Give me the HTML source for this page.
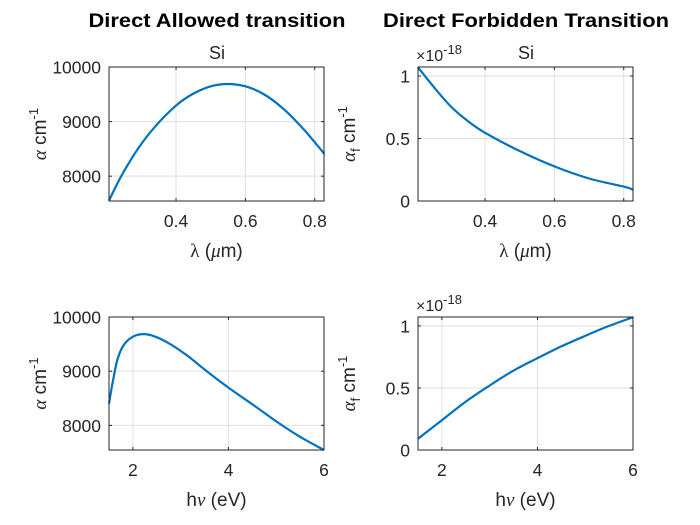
<!DOCTYPE html>
<html><head><meta charset="utf-8"><style>
body{margin:0;background:#fff}
svg{display:block;font-family:"Liberation Sans",Arial,sans-serif}
</style></head><body>
<svg id="fig" width="700" height="525" viewBox="0 0 700 525"></svg>
<script>
const lamA=[0.2067,0.243,0.290,0.338,0.4,0.448,0.5,0.548,0.6,0.652,0.71,0.767,0.822,0.8267];
const alphaLam=[7555,8012,8500,8896,9293,9506,9646,9689,9646,9506,9232,8866,8451,8410];
const lamF=[0.2067,0.25,0.3,0.35,0.4,0.5,0.6,0.7,0.8,0.8267];
const forbLam=[1.07,0.92,0.76,0.64,0.546,0.40,0.277,0.18,0.115,0.09];
const evA=[1.5,1.57,1.676,1.81,2.0,2.228,2.47,2.81,3.16,3.5,4.0,4.54,5.02,5.5,6.0];
const alphaEv=[8400,8758,9212,9485,9636,9685,9636,9485,9273,9030,8697,8364,8061,7788,7545];
const evF=[1.5,2,2.5,3,3.5,4,4.5,5,5.5,6];
const forbEv=[0.09,0.24,0.39,0.52,0.64,0.74,0.835,0.92,1.0,1.07];
const ticksLam=[0.4,0.6,0.8];
const ticksEv=[2,4,6];
const ticksAlpha=[8000,9000,10000];
const ticksForb=[0,0.5,1];

const NS="http://www.w3.org/2000/svg";
const svg=document.getElementById('fig');
function mk(tag,attrs,parent,text){const e=document.createElementNS(NS,tag);for(const k in attrs)e.setAttribute(k,attrs[k]);if(text!==undefined)e.textContent=text;(parent||svg).appendChild(e);return e;}
function smooth(P){let d='M'+P[0][0].toFixed(1)+','+P[0][1].toFixed(1);
  for(let i=0;i<P.length-1;i++){const p0=P[Math.max(0,i-1)],p1=P[i],p2=P[i+1],p3=P[Math.min(P.length-1,i+2)];
    const c1=[p1[0]+(p2[0]-p0[0])/6,p1[1]+(p2[1]-p0[1])/6],c2=[p2[0]-(p3[0]-p1[0])/6,p2[1]-(p3[1]-p1[1])/6];
    d+=` C${c1[0].toFixed(1)},${c1[1].toFixed(1)} ${c2[0].toFixed(1)},${c2[1].toFixed(1)} ${p2[0].toFixed(1)},${p2[1].toFixed(1)}`;}
  return d;}

function panel(name,box,xlim,ylim,xt,yt,xs,ys,xlabel,ylabelHTML,exp){
  const [L,T,R,B]=box;
  const g=mk('g',{});
  
  
  const X=v=>L+(v-xlim[0])/(xlim[1]-xlim[0])*(R-L);
  const Y=v=>B-(v-ylim[0])/(ylim[1]-ylim[0])*(B-T);
  mk('rect',{x:L,y:T,width:R-L,height:B-T,fill:'#fff'},g);
  xt.forEach(t=>{const x=X(t);
    mk('line',{x1:x,x2:x,y1:T,y2:B,stroke:'#dfdfdf','stroke-width':1},g);
    mk('line',{x1:x,x2:x,y1:B,y2:B-3,stroke:'#262626'},g);
    mk('line',{x1:x,x2:x,y1:T,y2:T+3,stroke:'#262626'},g);
    const tx=mk('text',{x:x,y:B+26,'text-anchor':'middle','font-size':17.5,fill:'#262626'},g,String(t));
    
    
  });
  yt.forEach(t=>{const y=Y(t);
    mk('line',{x1:L,x2:R,y1:y,y2:y,stroke:'#dfdfdf','stroke-width':1},g);
    mk('line',{x1:L,x2:L+3,y1:y,y2:y,stroke:'#262626'},g);
    mk('line',{x1:R,x2:R-3,y1:y,y2:y,stroke:'#262626'},g);
    const ty=mk('text',{x:L-8,y:y+6.5,'text-anchor':'end','font-size':17.5,fill:'#262626'},g,String(t));
    
    
  });
  const clip='clip-'+name;
  const cp=mk('clipPath',{id:clip},g);
  mk('rect',{x:L-1,y:T-1,width:R-L+2,height:B-T+2},cp);
  const p=mk('path',{d:smooth(xs.map((v,i)=>[X(v),Y(ys[i])])),fill:'none',stroke:'#0072bd','stroke-width':2.2,'stroke-linejoin':'round','clip-path':`url(#${clip})`},g);
  
  
  mk('rect',{x:L,y:T,width:R-L,height:B-T,fill:'none',stroke:'#262626','stroke-width':1},g);
  const xl=mk('text',{x:(L+R)/2,y:B+56,'text-anchor':'middle','font-size':19,fill:'#262626'},g);
  xl.innerHTML=xlabel;
  
  
  const yl=mk('text',{transform:`translate(${L-63},${(T+B)/2}) rotate(-90)`,'text-anchor':'middle','font-size':19,fill:'#262626'},g);
  yl.innerHTML=ylabelHTML;
  
  
  if(exp){const e=mk('text',{x:L-2,y:T-6,'font-size':16,fill:'#262626'},g);
    e.innerHTML='×10<tspan dy="-7" font-size="13">-18</tspan>';
    
    }
}
const LAM='<tspan font-family="Liberation Serif">λ</tspan> (<tspan font-family="Liberation Serif" font-style="italic">μ</tspan>m)';
const EV='h<tspan font-family="Liberation Serif" font-style="italic">ν</tspan> (eV)';
const AL='<tspan font-family="Liberation Serif" font-style="italic">α</tspan>  cm<tspan dy="-8" font-size="13">-1</tspan>';
const AF='<tspan font-family="Liberation Serif" font-style="italic">α</tspan><tspan dy="5" font-size="13">f</tspan><tspan dy="-5"> cm</tspan><tspan dy="-8" font-size="13">-1</tspan>';

panel('plot-allowed-lambda',[109,67,324,201],[0.2067,0.8267],[7545,10000],ticksLam,ticksAlpha,lamA,alphaLam,LAM,AL,false);
panel('plot-forbidden-lambda',[418,67,633,201],[0.2067,0.8267],[0,1.072],ticksLam,ticksForb,lamF,forbLam,LAM,AF,true);
panel('plot-allowed-energy',[109,317,324,450],[1.5,6],[7545,10000],ticksEv,ticksAlpha,evA,alphaEv,EV,AL,false);
panel('plot-forbidden-energy',[418,317,633,450],[1.5,6],[0,1.072],ticksEv,ticksForb,evF,forbEv,EV,AF,true);

function title(x,y,txt,bold,nm,len){const a={x:x,y:y,'text-anchor':'middle','font-size':bold?19:18,'font-weight':bold?'bold':'normal',fill:bold?'#000':'#262626'};
  if(len){a.textLength=len;a.lengthAdjust='spacingAndGlyphs';}
  const t=mk('text',a,svg,txt);
  
  }
title(217,27,'Direct Allowed transition',true,'title-allowed',257);
title(526,27,'Direct Forbidden Transition',true,'title-forbidden',286);
title(217,59,'Si',false,'subtitle-allowed');
title(526,59,'Si',false,'subtitle-forbidden');
</script>
</body></html>
